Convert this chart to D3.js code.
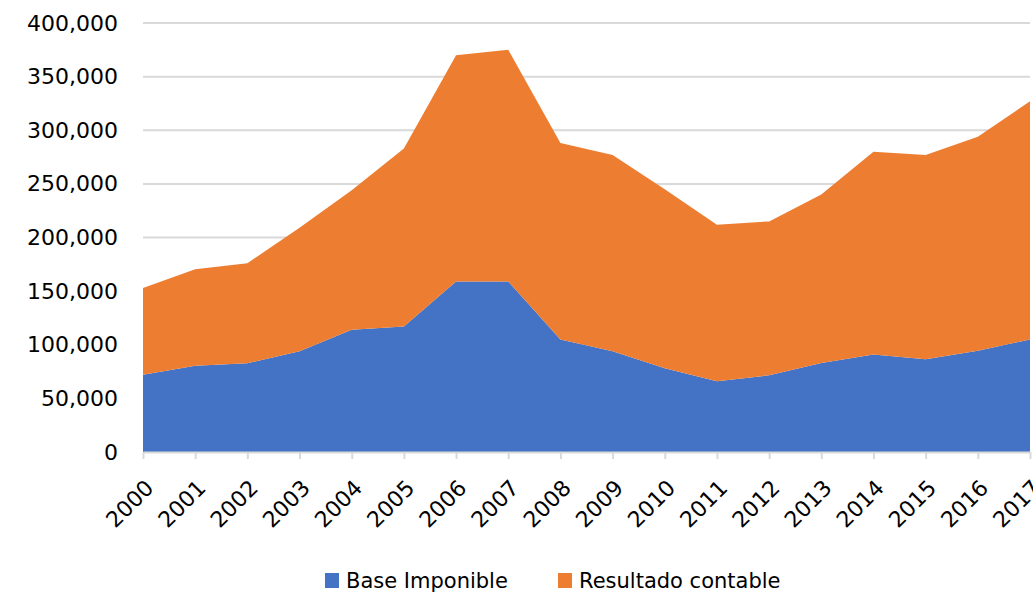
<!DOCTYPE html>
<html>
<head>
<meta charset="utf-8">
<script src="https://cdn.jsdelivr.net/npm/d3@7"></script>
<style>
  body { margin: 0; background: #fff; }
  svg text { font-family: "DejaVu Sans", sans-serif; fill: #000; }
</style>
</head>
<body>
<div id="chart"></div>
<script>
// values
const years = ["2000","2001","2002","2003","2004","2005","2006","2007","2008","2009",
               "2010","2011","2012","2013","2014","2015","2016","2017"];
const baseImponible = [72000, 80500, 82700, 94000, 114000, 117000, 159000, 159000, 105000, 94000,
                       78000, 66000, 71500, 83000, 91000, 86500, 94500, 105000];
const resultadoContable = [81000, 90000, 93300, 115000, 130000, 166000, 211000, 216000, 183000, 183000,
                           167000, 146000, 143500, 157000, 189000, 190500, 199500, 222000];
const yTicks = [0, 50000, 100000, 150000, 200000, 250000, 300000, 350000, 400000];
const seriesNames = ["Base Imponible", "Resultado contable"];
const colors = ["#4472C4", "#ED7D31"];

const width = 1033, height = 593;
const margin = {top: 23, right: 3, bottom: 141, left: 143};

const svg = d3.select("#chart").append("svg")
  .attr("width", width)
  .attr("height", height);

const rows = years.map((y, i) => ({year: y, base: baseImponible[i], res: resultadoContable[i]}));
const stack = d3.stack().keys(["base", "res"]);
const layers = stack(rows);

const x = d3.scalePoint()
  .domain(years)
  .range([margin.left, width - margin.right]);

const y = d3.scaleLinear()
  .domain([0, 400000])
  .range([height - margin.bottom, margin.top]);

// gridlines
svg.append("g")
  .selectAll("line")
  .data(yTicks.filter(d => d > 0))
  .join("line")
  .attr("x1", margin.left)
  .attr("x2", width - margin.right)
  .attr("y1", d => y(d))
  .attr("y2", d => y(d))
  .attr("stroke", "#d9d9d9")
  .attr("stroke-width", 2);

const area = d3.area()
  .x(d => x(d.data.year))
  .y0(d => y(d[0]))
  .y1(d => y(d[1]));

svg.append("g")
  .selectAll("path")
  .data(layers)
  .join("path")
  .attr("d", area)
  .attr("fill", (d, i) => colors[i]);

// y axis labels
const yAxis = d3.axisLeft(y)
  .tickValues(yTicks)
  .tickSize(0)
  .tickPadding(25)
  .tickFormat(d3.format(","));

svg.append("g")
  .attr("transform", `translate(${margin.left},0)`)
  .call(yAxis)
  .call(g => g.select(".domain").remove())
  .selectAll("text")
  .attr("font-size", 22);

// x axis
const xAxis = d3.axisBottom(x)
  .tickSize(7)
  .tickSizeOuter(0);

const gx = svg.append("g")
  .attr("transform", `translate(0,${height - margin.bottom})`)
  .call(xAxis);

gx.select(".domain").attr("stroke", "#d9d9d9").attr("stroke-width", 2);
gx.selectAll(".tick line").attr("stroke", "#d9d9d9").attr("stroke-width", 2);
gx.selectAll("text")
  .attr("font-size", 22)
  .attr("text-anchor", "end")
  .attr("dy", "0.35em")
  .attr("transform", "translate(6,32) rotate(-45)")
  .attr("x", 0)
  .attr("y", 0);

// legend
const legend = svg.append("g");
const legendX = [325, 558];
seriesNames.forEach((name, i) => {
  legend.append("rect")
    .attr("x", legendX[i])
    .attr("y", 573)
    .attr("width", 14)
    .attr("height", 15)
    .attr("fill", colors[i]);
  legend.append("text")
    .attr("x", legendX[i] + 21)
    .attr("y", 588)
    .attr("font-size", 21)
    .text(name);
});
</script>
</body>
</html>
